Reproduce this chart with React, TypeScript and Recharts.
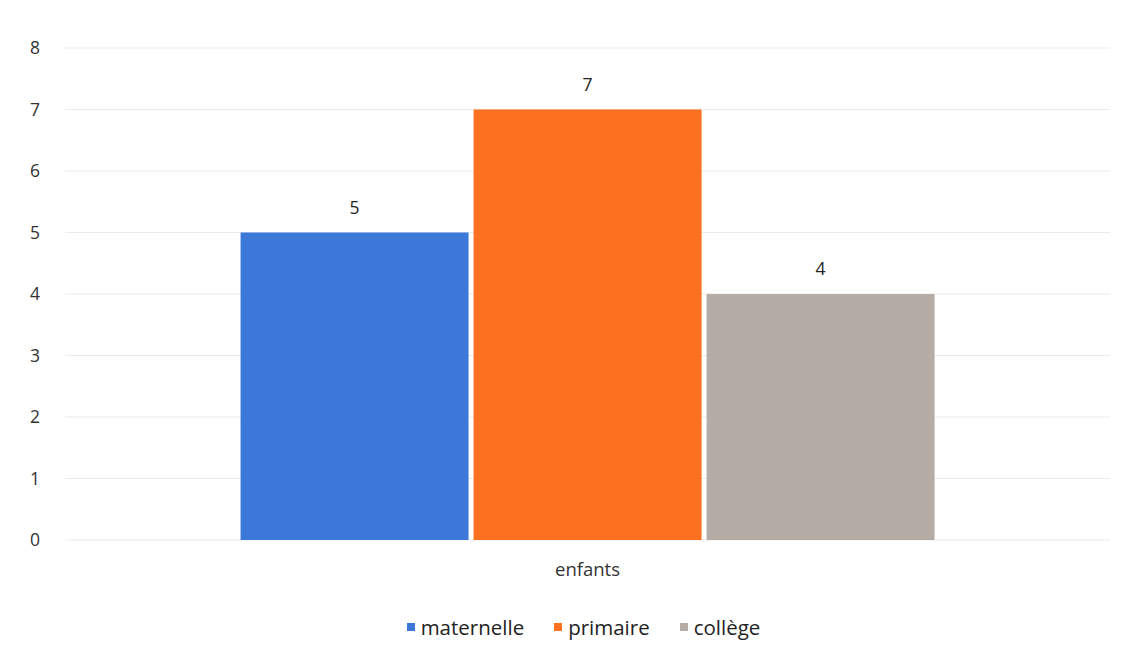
import React from "react";
import { BarChart, Bar, XAxis, YAxis, CartesianGrid, Legend, LabelList } from "recharts";

// ─── Data ────────────────────────────────────────────────
const categories = ["enfants"];
const seriesNames = ["maternelle", "primaire", "collège"];
const seriesValues = [5, 7, 4];
const seriesColors = ["#3b78d8", "#fb711f", "#b5aca5"];
const yTicks = [0, 1, 2, 3, 4, 5, 6, 7, 8];

const data = categories.map((cat) => {
  const row: Record<string, string | number> = { name: cat };
  seriesNames.forEach((s, i) => {
    row[s] = seriesValues[i];
  });
  return row;
});

const FONT = "'Open Sans', 'Noto Sans', sans-serif";

function LegendContent() {
  return (
    <div
      style={{
        height: 40,
        display: "flex",
        justifyContent: "center",
        alignItems: "center",
        gap: 30,
        paddingLeft: 57,
        fontFamily: FONT,
        fontSize: 20.5,
        color: "#222",
      }}
    >
      {seriesNames.map((s, i) => (
        <div key={s} style={{ display: "flex", alignItems: "center", gap: 6 }}>
          <span style={{ width: 8, height: 8, background: seriesColors[i], display: "inline-block" }} />
          <span>{s}</span>
        </div>
      ))}
    </div>
  );
}

export default function App() {
  return (
    <div style={{ position: "absolute", left: 0, top: 0, width: 1128, height: 659, background: "#fff" }}>
      <BarChart
        width={1128}
        height={659}
        data={data}
        margin={{ top: 48, right: 18, left: 0, bottom: 12 }}
        barCategoryGap="16.8%"
        barGap={5}
      >
        <CartesianGrid stroke="#ebebeb" vertical={false} />
        <XAxis
          dataKey="name"
          axisLine={false}
          tickLine={false}
          tickSize={0}
          tickMargin={23}
          height={67}
          tick={{ fontSize: 18.5, fill: "#333", fontFamily: FONT }}
        />
        <YAxis
          domain={[0, 8]}
          ticks={yTicks}
          width={65}
          axisLine={false}
          tickLine={false}
          tickSize={0}
          tickMargin={25}
          tick={{ fontSize: 17.5, fill: "#333", fontFamily: FONT }}
        />
        <Legend verticalAlign="bottom" content={<LegendContent />} />
        {seriesNames.map((s, i) => (
          <Bar key={s} dataKey={s} fill={seriesColors[i]} isAnimationActive={false}>
            <LabelList
              dataKey={s}
              position="top"
              offset={19}
              style={{ fontSize: 17.5, fill: "#222", fontFamily: FONT }}
            />
          </Bar>
        ))}
      </BarChart>
    </div>
  );
}
